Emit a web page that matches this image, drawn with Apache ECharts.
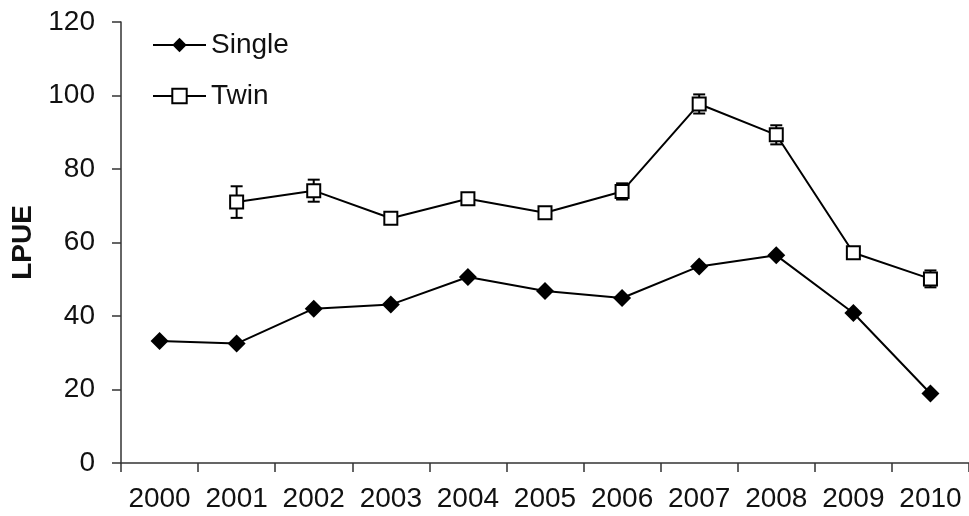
<!DOCTYPE html>
<html>
<head>
<meta charset="utf-8">
<script src="https://cdn.jsdelivr.net/npm/echarts@6/dist/echarts.min.js"></script>
<style>
  html, body { margin: 0; padding: 0; background: #fff; }
  #chart { width: 969px; height: 516px; }
</style>
</head>
<body>
<div id="chart"></div>
<script>
// Landings per unit effort by gear type, 2000-2010
const years = ['2000', '2001', '2002', '2003', '2004', '2005', '2006', '2007', '2008', '2009', '2010'];
const single = [33.2, 32.5, 42.0, 43.1, 50.6, 46.8, 44.9, 53.5, 56.5, 40.8, 18.9];
const twin = [null, 71.0, 74.1, 66.6, 71.9, 68.1, 73.9, 97.7, 89.3, 57.2, 50.1];
// half-width of the error bar on each Twin point
const twinErr = [null, 4.3, 3.0, 0.8, 0.8, 0.6, 2.2, 2.6, 2.6, 0.6, 2.3];
const yMin = 0, yMax = 120, yStep = 20;

const FONT = 'Liberation Sans, Arial, sans-serif';
const AXIS_COLOR = '#333';
const TEXT_COLOR = '#111';

// legend key for Single: a short line with a wide diamond on it
const SINGLE_KEY = 'path://M0,8L53,8L53,10L0,10Z M18.5,9L26.5,2.5L34.5,9L26.5,15.5Z';

// [categoryIndex, low, high] for every Twin point that has a value
const twinBars = [];
twin.forEach((v, i) => {
  if (v != null && twinErr[i] != null) twinBars.push([i, v - twinErr[i], v + twinErr[i]]);
});

function renderErrorBar(params, api) {
  const idx = api.value(0);
  const top = api.coord([idx, api.value(2)]);
  const bot = api.coord([idx, api.value(1)]);
  const hw = 6;
  const style = { stroke: '#000', lineWidth: 2 };
  return {
    type: 'group',
    children: [
      { type: 'line', shape: { x1: top[0], y1: top[1], x2: bot[0], y2: bot[1] }, style: style },
      { type: 'line', shape: { x1: top[0] - hw, y1: top[1], x2: top[0] + hw, y2: top[1] }, style: style },
      { type: 'line', shape: { x1: bot[0] - hw, y1: bot[1], x2: bot[0] + hw, y2: bot[1] }, style: style }
    ]
  };
}

const chart = echarts.init(document.getElementById('chart'), null, { renderer: 'canvas' });
chart.setOption({
  animation: false,
  backgroundColor: '#fff',
  grid: { left: 121, top: 22, width: 850, bottom: 53, containLabel: false },
  legend: {
    data: ['Single', 'Twin'],
    orient: 'vertical',
    left: 147,
    top: 26,
    itemWidth: 53,
    itemHeight: 18,
    itemGap: 23,
    textStyle: { fontFamily: FONT, fontSize: 28, color: TEXT_COLOR }
  },
  xAxis: {
    type: 'category',
    data: years,
    boundaryGap: true,
    axisLine: { show: true, lineStyle: { color: AXIS_COLOR, width: 1.5 } },
    axisTick: { show: true, interval: 0, length: 9, lineStyle: { color: AXIS_COLOR, width: 1.5 } },
    axisLabel: { interval: 0, margin: 22, fontFamily: FONT, fontSize: 28, color: TEXT_COLOR },
    splitLine: { show: false }
  },
  yAxis: {
    type: 'value',
    min: yMin,
    max: yMax,
    interval: yStep,
    name: 'LPUE',
    nameLocation: 'middle',
    nameRotate: 90,
    nameGap: 83,
    nameTextStyle: { fontFamily: FONT, fontSize: 28, fontWeight: 'bold', color: TEXT_COLOR },
    axisLine: { show: true, lineStyle: { color: AXIS_COLOR, width: 1.5 } },
    axisTick: { show: true, length: 9, lineStyle: { color: AXIS_COLOR, width: 1.5 } },
    axisLabel: { margin: 26, fontFamily: FONT, fontSize: 28, color: TEXT_COLOR },
    splitLine: { show: false }
  },
  series: [
    {
      name: 'TwinError',
      type: 'custom',
      renderItem: renderErrorBar,
      data: twinBars,
      encode: { x: 0, y: [1, 2] },
      z: 1,
      silent: true
    },
    {
      name: 'Single',
      type: 'line',
      data: single,
      symbol: 'diamond',
      symbolSize: 18,
      legendIcon: SINGLE_KEY,
      itemStyle: { color: '#000' },
      lineStyle: { color: '#000', width: 2 },
      z: 3
    },
    {
      name: 'Twin',
      type: 'line',
      data: twin,
      symbol: 'rect',
      symbolSize: 13,
      itemStyle: { color: '#fff', borderColor: '#000', borderWidth: 2 },
      lineStyle: { color: '#000', width: 2 },
      z: 3
    }
  ]
});
</script>
</body>
</html>
